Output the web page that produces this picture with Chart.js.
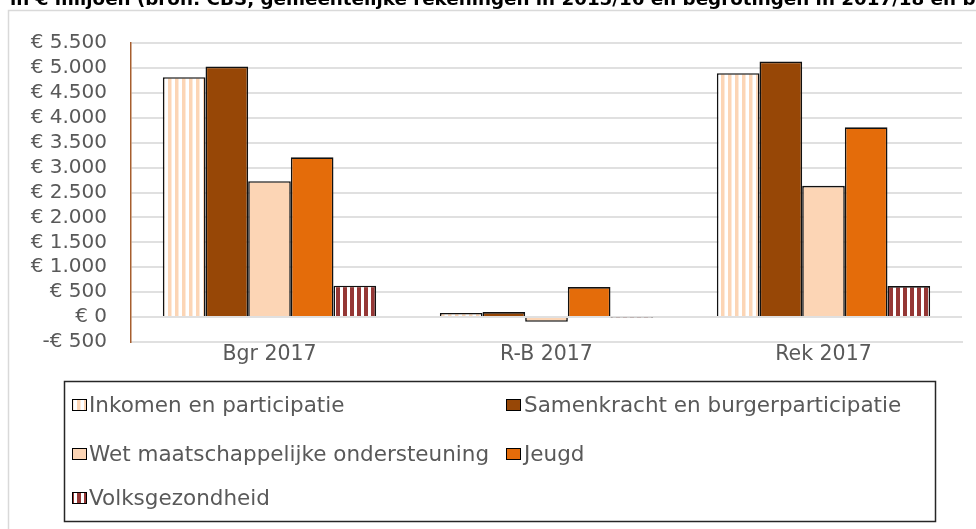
<!DOCTYPE html>
<html><head><meta charset="utf-8">
<script src="https://cdn.jsdelivr.net/npm/chart.js@4"></script>
<style>html,body{margin:0;padding:0;background:#fff;overflow:hidden}#wrap{position:relative;width:976px;height:529px}</style>
</head><body><div id="wrap"><canvas id="c" width="976" height="529"></canvas></div>
<script>
const titleText = "in € miljoen (bron: CBS, gemeentelijke rekeningen in 2015/16 en begrotingen in 2017/18 en begrotingen)";
const categories = ["Bgr 2017", "R-B 2017", "Rek 2017"];
const seriesNames = ["Inkomen en participatie", "Samenkracht en burgerparticipatie", "Wet maatschappelijke ondersteuning", "Jeugd", "Volksgezondheid"];
const inkomen = [4813, 80, 4893];
const samenkracht = [5026, 101, 5127];
const wmo = [2728, -94, 2634];
const jeugd = [3205, 603, 3808];
const volksgezondheid = [631, -8, 623];
const yMin = -500, yMax = 5500, yStep = 500;

const canvas = document.getElementById('c');
const ctx0 = canvas.getContext('2d');
function stripes(bg, fg, period, w) {
  const c = document.createElement('canvas'); c.width = period; c.height = 4;
  const x = c.getContext('2d');
  x.fillStyle = bg; x.fillRect(0, 0, period, 4);
  x.fillStyle = fg; x.fillRect(0, 0, w, 4);
  return ctx0.createPattern(c, 'repeat');
}
const colInkomen = stripes('#ffffff', '#fcd5b5', 7, 3.5);
const colVolks = stripes('#ffffff', '#953735', 7, 4);

function fmtEuro(v) {
  const a = Math.abs(v).toString().replace(/\B(?=(\d{3})+(?!\d))/g, '.');
  return (v < 0 ? '-€ ' : '€ ') + a;
}

const decor = {
  id: 'decor',
  beforeDraw(chart) {
    const c = chart.ctx; c.save();
    c.fillStyle = '#fff'; c.fillRect(0, 0, chart.width, chart.height);
    c.strokeStyle = '#d9d9d9'; c.lineWidth = 1.5;
    c.beginPath(); c.moveTo(8.5, 600); c.lineTo(8.5, 10.5); c.lineTo(1000, 10.5); c.stroke();
    c.fillStyle = '#000'; c.font = 'bold 18.3px "DejaVu Sans"'; c.textBaseline = 'alphabetic';
    c.fillText(titleText, 10, 5);
    c.restore();
  },
  afterDraw(chart) {
    const c = chart.ctx; c.save();
    c.strokeStyle = '#262626'; c.lineWidth = 1.5;
    c.strokeRect(64.5, 381.5, 871, 140);
    const pos = [[72, 405, 89], [506, 405, 524], [72, 454, 89], [506, 454, 524], [72, 498, 89]];
    chart.data.datasets.forEach((ds, i) => {
      const [mx, cy, tx] = pos[i];
      c.fillStyle = ds.backgroundColor; c.fillRect(mx, cy - 6, 15, 12);
      c.strokeStyle = '#000'; c.lineWidth = 1; c.strokeRect(mx + 0.5, cy - 5.5, 14, 11);
      c.fillStyle = '#595959'; c.font = '21.5px "DejaVu Sans"'; c.textBaseline = 'middle';
      c.fillText(ds.label, tx, cy + 1);
    });
    c.restore();
  }
};

const datasetsSrc = [inkomen, samenkracht, wmo, jeugd, volksgezondheid];
const colors = [colInkomen, '#974706', '#fcd5b5', '#e46c0a', colVolks];

new Chart(canvas, {
  type: 'bar',
  data: {
    labels: categories,
    datasets: datasetsSrc.map((d, i) => ({
      label: seriesNames[i], data: d, backgroundColor: colors[i],
      borderColor: '#111', borderWidth: 1.6,
      categoryPercentage: 0.77, barPercentage: 1.0
    }))
  },
  options: {
    responsive: false, animation: false, devicePixelRatio: 1,
    layout: { padding: { top: 43, right: 14, bottom: 0, left: 0 } },
    plugins: { legend: { display: false }, tooltip: { enabled: false }, title: { display: false } },
    scales: {
      x: {
        grid: { display: false, drawTicks: false },
        border: { color: '#e0e0e0', width: 2 },
        ticks: { color: '#595959', font: { family: 'DejaVu Sans', size: 20.5 }, padding: 0 },
        afterFit(s) { s.height = 187; }
      },
      y: {
        min: yMin, max: yMax,
        grid: { color: '#e0e0e0', lineWidth: 2, drawTicks: false },
        border: { color: '#a65e2e', width: 1.5 },
        ticks: { stepSize: yStep, autoSkip: false, color: '#595959', font: { family: 'DejaVu Sans', size: 20 }, padding: 24, callback: v => fmtEuro(v) },
        afterFit(s) { s.width = 131; }
      }
    }
  },
  plugins: [decor]
});
</script>
</body></html>
